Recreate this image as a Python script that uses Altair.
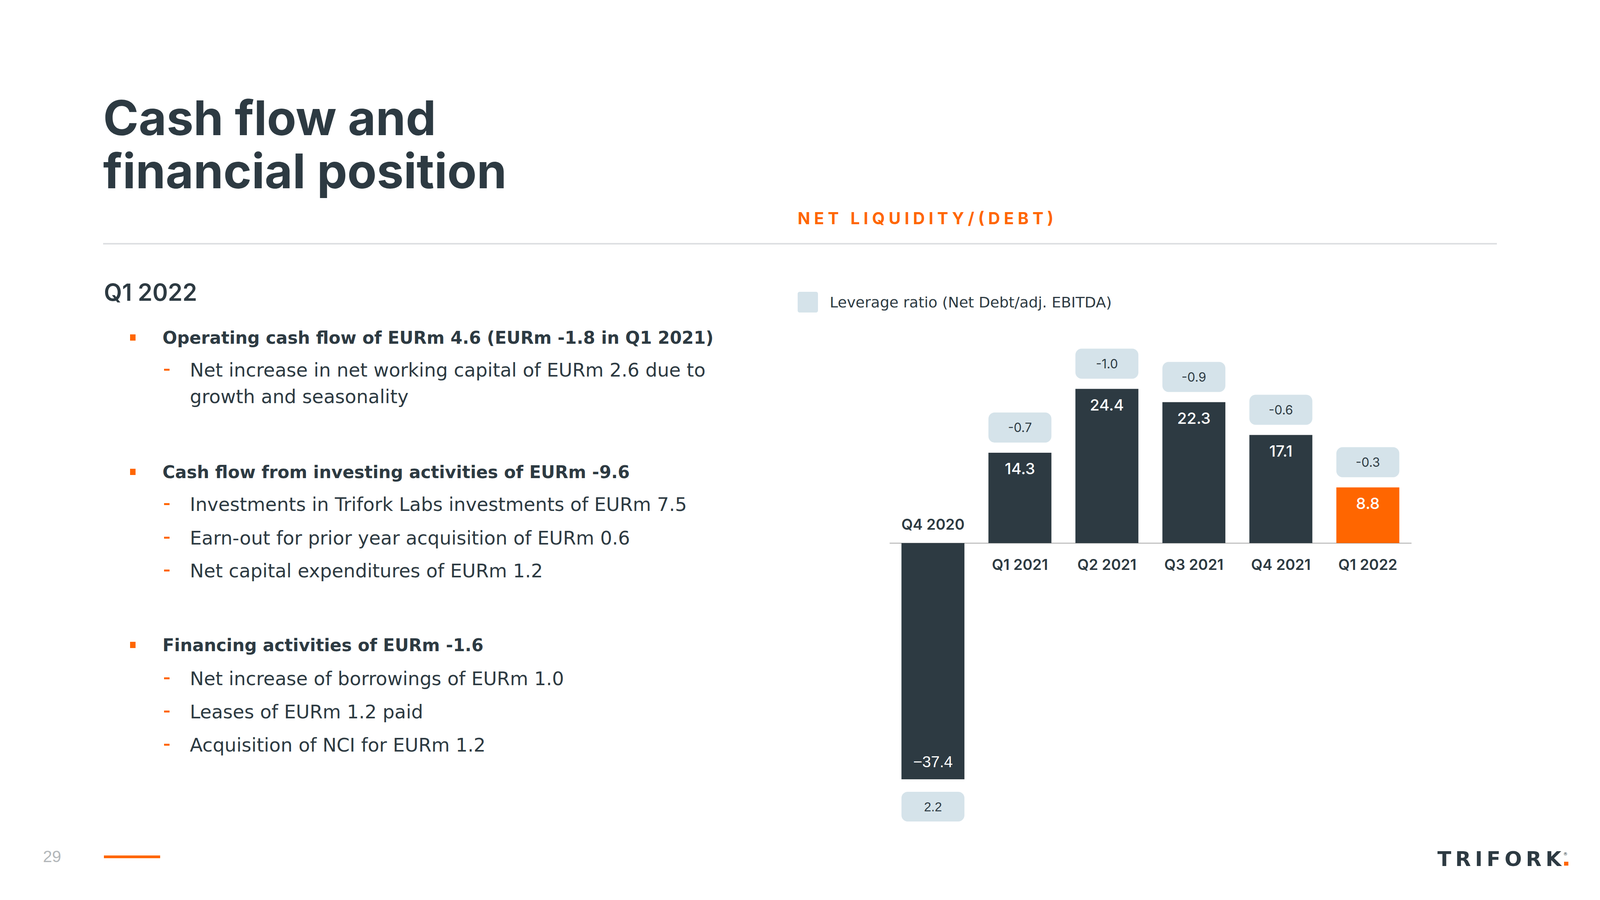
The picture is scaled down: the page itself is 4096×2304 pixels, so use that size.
import altair as alt
import pandas as pd

# ---------------- data ----------------
quarters = ["Q4 2020", "Q1 2021", "Q2 2021", "Q3 2021", "Q4 2021", "Q1 2022"]
net_liquidity = [-37.4, 14.3, 24.4, 22.3, 17.1, 8.8]
leverage = [2.2, -0.7, -1.0, -0.9, -0.6, -0.3]

title_lines = ["Cash flow and", "financial position"]
chart_title = "NET LIQUIDITY/(DEBT)"
legend_label = "Leverage ratio (Net Debt/adj. EBITDA)"
section_heading = "Q1 2022"
bullets = [
    "Operating cash flow of EURm 4.6 (EURm -1.8 in Q1 2021)",
    "Cash flow from investing activities of EURm -9.6",
    "Financing activities of EURm -1.6",
]
sub_items = [
    [["Net increase in net working capital of EURm 2.6 due to", "growth and seasonality"]],
    [["Investments in Trifork Labs investments of EURm 7.5"],
     ["Earn-out for prior year acquisition of EURm 0.6"],
     ["Net capital expenditures of EURm 1.2"]],
    [["Net increase of borrowings of EURm 1.0"],
     ["Leases of EURm 1.2 paid"],
     ["Acquisition of NCI for EURm 1.2"]],
]
page_number = "29"
logo_text = "TRIFORK"

# ---------------- style / layout ----------------
DARK = "#2D3A42"
ORANGE = "#FF6600"
LIGHT = "#D5E3EA"
GREY_LINE = "#DDDFE2"
PAGE_GREY = "#B3B7BA"
SANS = "Inter"
BODY = "DejaVu Sans"
M = 8  # page margin
W, H = 4096 - 2 * M, 2304 - 2 * M

bullet_y = [880, 1224, 1667]
sub_y = [[964], [1308, 1394, 1478], [1754, 1839, 1924]]
SUB_LINE = 68

ONE = pd.DataFrame({"k": [0]})


def text_layer(s, x, y, size, weight=400, color=DARK, font=SANS, align="left"):
    return alt.Chart(ONE).mark_text(
        align=align, baseline="alphabetic", font=font, fontSize=size,
        fontWeight=weight, color=color
    ).encode(x=alt.value(x - M), y=alt.value(y - M), text=alt.value(s))


def rect_layer(x1, y1, x2, y2, color, radius=0):
    return alt.Chart(ONE).mark_rect(color=color, cornerRadius=radius).encode(
        x=alt.value(x1 - M), x2=alt.value(x2 - M),
        y=alt.value(y1 - M), y2=alt.value(y2 - M)
    )


layers = []

# title
layers.append(text_layer(title_lines[0], 264, 346, 123, 700))
layers.append(text_layer(title_lines[1], 264, 482, 123, 700))

# chart heading + separator + legend
spaced = "\u2009\u200a".join(chart_title)
layers.append(text_layer(spaced, 2042, 574, 42, 700, ORANGE))
layers.append(rect_layer(264, 622, 3832, 626, GREY_LINE))
layers.append(rect_layer(2042, 747, 2094, 800, LIGHT, 5))
layers.append(text_layer(legend_label, 2124, 787, 38, 400, DARK, BODY))

# left text panel
layers.append(text_layer(section_heading, 266, 770, 60, 600))
for b, by, items, ys in zip(bullets, bullet_y, sub_items, sub_y):
    layers.append(rect_layer(333, by - 24, 347, by - 8, ORANGE))
    layers.append(text_layer(b, 416, by, 44, 700, DARK, BODY))
    for item, iy in zip(items, ys):
        layers.append(rect_layer(420, iy - 20, 434, iy - 15, ORANGE))
        for j, line in enumerate(item):
            layers.append(text_layer(line, 486, iy + j * SUB_LINE, 48, 400, DARK, BODY))

# footer
layers.append(text_layer(page_number, 110, 2207, 42, 400, PAGE_GREY, "Liberation Sans"))
layers.append(rect_layer(266, 2190, 410, 2197, ORANGE))
layers.append(text_layer("\u2009".join(logo_text), 3997, 2217, 52, 700, DARK, "DejaVu Sans", "right"))
layers.append(rect_layer(4004, 2206, 4015, 2216, ORANGE))
layers.append(text_layer("\u00ae", 4002, 2190, 11, 400, DARK, "DejaVu Sans"))

# ---------------- bar chart ----------------
df = pd.DataFrame({
    "quarter": quarters,
    "value": net_liquidity,
    "leverage": leverage,
})
df["value_label"] = [f"{v:.1f}".replace("-", "\u2212") for v in net_liquidity]
df["lev_label"] = [f"{v:.1f}" for v in leverage]
df["zero"] = 0

ZERO_Y = 1390
xscale = alt.Scale(domain=quarters, range=[2277 - M, 3613 - M],
                   paddingInner=0.276, paddingOuter=0.138)
yscale = alt.Scale(domain=[-40, 30], range=[2037 - M, 905 - M], nice=False)
x_enc = alt.X("quarter:N", sort=quarters, scale=xscale,
              axis=alt.Axis(orient="bottom", offset=(ZERO_Y - M) - H, labels=False,
                            ticks=False, title=None, grid=False,
                            domainColor="#8C8C8C", domainWidth=1.5))
y_val = alt.Y("value:Q", scale=yscale, axis=None)
y_zero = alt.Y("zero:Q", scale=yscale, axis=None)

base = alt.Chart(df)
pos = base.transform_filter("datum.value >= 0")
neg = base.transform_filter("datum.value < 0")

bars = base.mark_bar().encode(
    x=x_enc, y=y_val, y2=alt.Y2("zero"),
    color=alt.Color("quarter:N", scale=alt.Scale(domain=quarters,
                    range=[DARK] * 5 + [ORANGE]), legend=None),
)

box_pos = pos.mark_rect(color=LIGHT, cornerRadius=16, yOffset=-103, y2Offset=-26).encode(
    x=x_enc, y=y_val, y2=alt.Y2("value"))
box_neg = neg.mark_rect(color=LIGHT, cornerRadius=16, yOffset=32, y2Offset=108).encode(
    x=x_enc, y=y_val, y2=alt.Y2("value"))

lev_pos = pos.mark_text(font=SANS, fontSize=32, color=DARK, baseline="alphabetic", dy=-53).encode(
    x=x_enc, y=y_val, text="lev_label:N")
lev_neg = neg.mark_text(font="Liberation Sans", fontSize=33, color=DARK, baseline="alphabetic", dy=82).encode(
    x=x_enc, y=y_val, text="lev_label:N")

val_pos = pos.mark_text(font=SANS, fontSize=40, fontWeight=500, color="white", baseline="alphabetic", dy=55).encode(
    x=x_enc, y=y_val, text="value_label:N")
val_neg = neg.mark_text(font="Liberation Sans", fontSize=40, color="white", baseline="alphabetic", dy=-31).encode(
    x=x_enc, y=y_val, text="value_label:N")

cat_pos = pos.mark_text(font=SANS, fontSize=38, fontWeight=600, color=DARK, baseline="alphabetic", dy=69).encode(
    x=x_enc, y=y_zero, text="quarter:N")
cat_neg = neg.mark_text(font=SANS, fontSize=38, fontWeight=600, color=DARK, baseline="alphabetic", dy=-34).encode(
    x=x_enc, y=y_zero, text="quarter:N")

chart = alt.layer(
    bars, box_pos, box_neg, lev_pos, lev_neg, val_pos, val_neg, cat_pos, cat_neg,
    *layers
).properties(
    width=W, height=H,
    autosize=alt.AutoSizeParams(type="none"),
    padding=0,
    background="white",
).configure_view(strokeWidth=0)

chart.save("out.html", embed_options={"renderer": "svg", "actions": False})
